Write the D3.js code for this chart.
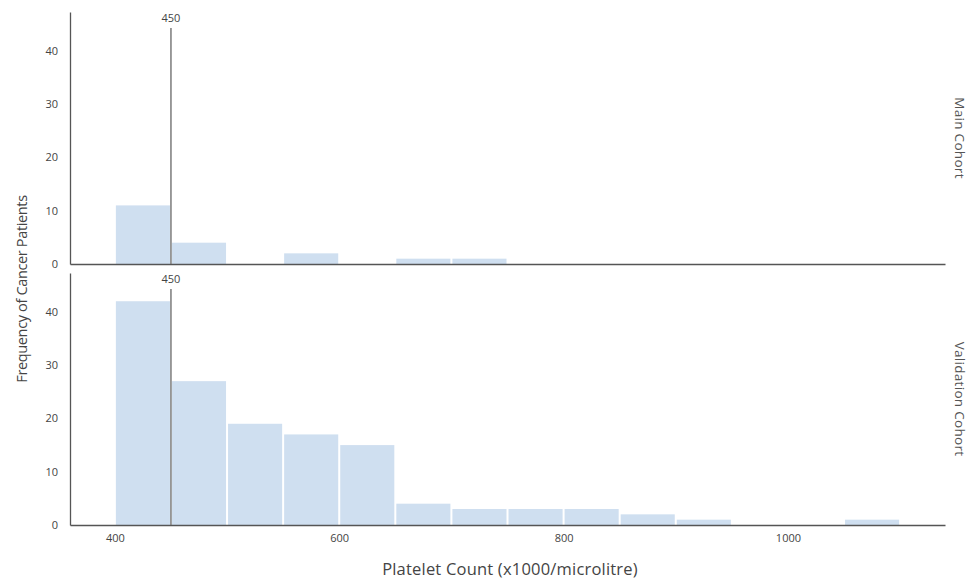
<!DOCTYPE html>
<html>
<head>
<meta charset="utf-8">
<script src="https://cdn.jsdelivr.net/npm/d3@7"></script>
<style>
  body { margin: 0; background: #fff; }
  text { font-family: "Open Sans", "DejaVu Sans", sans-serif; }
</style>
</head>
<body>
<div id="chart"></div>
<script>
// bin edges (x1000/microlitre)
var binStarts = [400, 450, 500, 550, 600, 650, 700, 750, 800, 850, 900, 950, 1000, 1050];
var binWidth = 50;
var mainCounts = [11, 4, 0, 2, 0, 1, 1, 0, 0, 0, 0, 0, 0, 0];
var validationCounts = [42, 27, 19, 17, 15, 4, 3, 3, 3, 2, 1, 0, 0, 1];
var panelNames = ["Main Cohort", "Validation Cohort"];
var xTicks = [400, 600, 800, 1000];
var yTicks = [0, 10, 20, 30, 40];
var cutoff = 450;

var svgWidth = 978, svgHeight = 579;

var svg = d3.select("#chart").append("svg")
    .attr("width", svgWidth)
    .attr("height", svgHeight);

var xScale = d3.scaleLinear()
    .domain([360, 1140])
    .range([70, 945]);

var panels = [
    { name: panelNames[0], counts: mainCounts, top: 12, bottom: 264 },
    { name: panelNames[1], counts: validationCounts, top: 273, bottom: 525 }
];

panels.forEach(function(p, pi) {
    var yScale = d3.scaleLinear()
        .domain([0, 47.3])
        .range([p.bottom, p.top]);

    var data = binStarts.map((b, i) => ({ x0: b, x1: b + binWidth, n: p.counts[i] }))
        .filter(d => d.n > 0);

    // bars
    svg.append("g")
        .selectAll("rect")
        .data(data)
        .enter()
        .append("rect")
        .attr("x", d => xScale(d.x0) + 1)
        .attr("width", d => xScale(d.x1) - xScale(d.x0) - 2)
        .attr("y", d => yScale(d.n))
        .attr("height", d => yScale(0) - yScale(d.n))
        .attr("fill", "#cfdff0");

    // y axis
    var yAxis = d3.axisLeft(yScale).tickValues(yTicks).tickSize(0).tickPadding(12);
    var gy = svg.append("g")
        .attr("transform", `translate(${xScale.range()[0]},0)`)
        .call(yAxis);
    gy.select(".domain").attr("stroke", "#555").attr("stroke-width", 1.3);
    gy.selectAll("text").attr("fill", "#444").attr("font-size", 11).attr("font-weight", 500);

    // x axis line
    var xAxis = d3.axisBottom(xScale)
        .tickValues(pi == 1 ? xTicks : [])
        .tickFormat(d3.format("d"))
        .tickSize(0).tickPadding(9);
    var gx = svg.append("g")
        .attr("transform", `translate(0,${p.bottom})`)
        .call(xAxis);
    gx.select(".domain").attr("stroke", "#555").attr("stroke-width", 1.5);
    gx.selectAll("text").attr("fill", "#444").attr("font-size", 11).attr("font-weight", 500);

    // reference line at 450
    svg.append("line")
        .attr("x1", xScale(cutoff)).attr("x2", xScale(cutoff))
        .attr("y1", p.top + 16).attr("y2", p.bottom)
        .attr("stroke", "#666")
        .attr("stroke-width", 1.3);
    svg.append("text")
        .attr("x", xScale(cutoff))
        .attr("y", p.top + 10)
        .attr("text-anchor", "middle")
        .attr("font-size", 11)
        .attr("fill", "#444")
        .text(cutoff);

    // panel label on the right
    svg.append("text")
        .attr("transform", `translate(${955},${(p.top + p.bottom) / 2}) rotate(90)`)
        .attr("text-anchor", "middle")
        .attr("font-size", 13.5)
        .attr("letter-spacing", 0.3)
        .attr("fill", "#555")
        .text(p.name);
});

// axis titles
svg.append("text")
    .attr("transform", `translate(27,${289}) rotate(-90)`)
    .attr("text-anchor", "middle")
    .attr("font-size", 14.5)
    .attr("letter-spacing", -0.35)
    .attr("fill", "#444")
    .text("Frequency of Cancer Patients");

svg.append("text")
    .attr("x", 510)
    .attr("y", 575)
    .attr("text-anchor", "middle")
    .attr("font-size", 16.5)
    .attr("letter-spacing", 0.2)
    .attr("fill", "#444")
    .text("Platelet Count (x1000/microlitre)");
</script>
</body>
</html>
